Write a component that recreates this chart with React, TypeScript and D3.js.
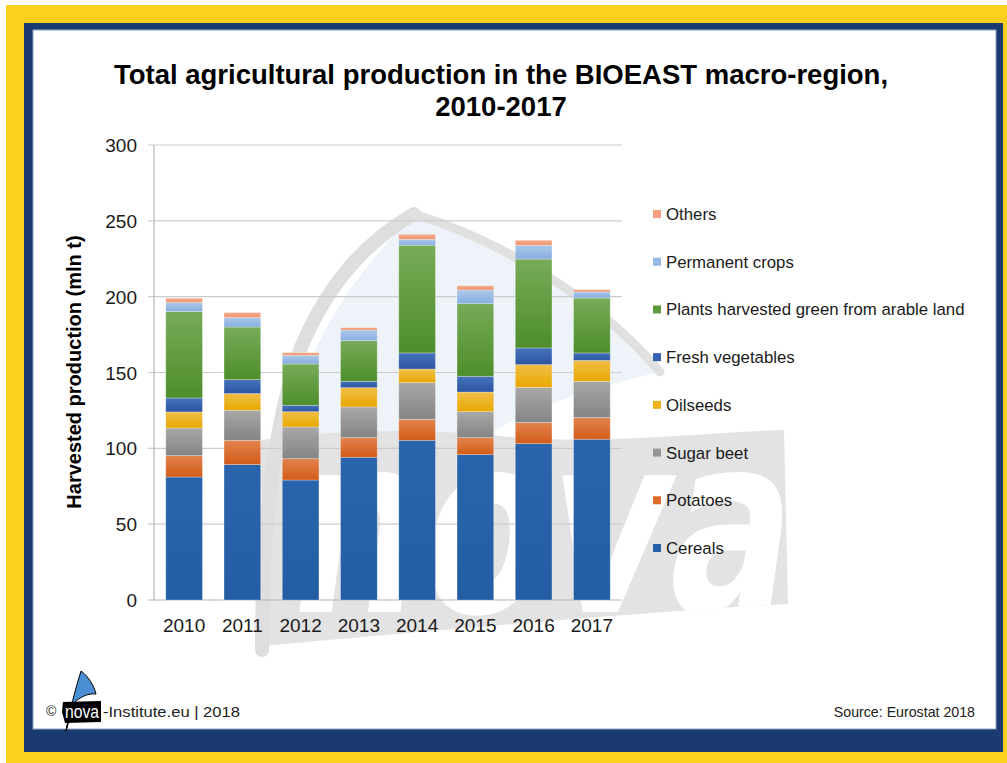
import React from "react";
import * as d3 from "d3";

const years = ["2010", "2011", "2012", "2013", "2014", "2015", "2016", "2017"];
const cereals = [81.1, 89.3, 79.1, 94.1, 105.3, 95.9, 103.1, 106.0];
const potatoes = [14.1, 16.0, 14.1, 13.0, 13.8, 11.2, 13.9, 14.3];
const sugarBeet = [18.2, 19.8, 20.9, 20.2, 24.2, 17.1, 23.2, 23.9];
const oilseeds = [10.6, 11.0, 10.1, 12.7, 9.0, 12.9, 15.0, 13.8];
const freshVegetables = [9.2, 9.2, 4.2, 4.2, 10.6, 10.4, 11.0, 4.9];
const plantsGreen = [57.1, 34.7, 27.2, 26.8, 71.0, 47.9, 58.6, 36.2];
const permanentCrops = [5.8, 6.2, 5.7, 7.0, 3.9, 9.0, 9.1, 4.0];
const others = [2.9, 3.3, 1.8, 1.6, 3.3, 2.8, 3.3, 1.5];
const yTicks = [0, 50, 100, 150, 200, 250, 300];

const seriesNames = [
  "Cereals",
  "Potatoes",
  "Sugar beet",
  "Oilseeds",
  "Fresh vegetables",
  "Plants harvested green from arable land",
  "Permanent crops",
  "Others",
];
const seriesValues = [cereals, potatoes, sugarBeet, oilseeds, freshVegetables, plantsGreen, permanentCrops, others];
const seriesTop = ["#2A64AC", "#E2834F", "#A8A8A8", "#F0BE48", "#4673BC", "#77AB58", "#ABC8EB", "#F4AA8A"];
const seriesBottom = ["#235DA3", "#D15C18", "#848484", "#E8A800", "#2C54A2", "#4E8E2B", "#86AEDF", "#EE9470"];
const seriesLegend = ["#2560A8", "#DA6A25", "#979797", "#EDB31C", "#3662B1", "#5E9B3B", "#97B9E5", "#F2A07F"];

const FONT = "'Liberation Sans', Arial, Helvetica, sans-serif";

export default function App() {
  const W = 1007;
  const H = 763;
  const x = d3.scaleBand<string>().domain(years).range([155, 621]).paddingInner(0.37).paddingOuter(0.185);
  const y = d3.scaleLinear().domain([0, 300]).range([600, 145]);

  const table = years.map((yr, i) => {
    const row: any = { year: yr };
    seriesNames.forEach((n, k) => (row[n] = seriesValues[k][i]));
    return row;
  });
  const stacked = d3.stack<any>().keys(seriesNames)(table);

  const legendY = d3.scalePoint<string>().domain(seriesNames.slice().reverse()).range([214, 548]);

  const bannerPath = "M261,440 C330,430 420,428 500,436 C600,446 700,432 784,430 L788,604 C640,612 420,632 262,646 Z";

  return (
    <svg width={W} height={H} style={{ position: "absolute", left: 0, top: 0, fontFamily: FONT }}>
      <defs>
        {seriesNames.map((n, k) => (
          <linearGradient key={n} id={`g${k}`} x1="0" y1="0" x2="0" y2="1">
            <stop offset="0%" stopColor={seriesTop[k]} />
            <stop offset="100%" stopColor={seriesBottom[k]} />
          </linearGradient>
        ))}
        <clipPath id="bannerClip">
          <path d={bannerPath} />
        </clipPath>
      </defs>

      {/* frame */}
      <rect x={0} y={0} width={W} height={H} fill="#ffffff" />
      <rect x={6} y={5} width={W - 6} height={H - 5} fill="#FBD11F" />
      <rect x={24} y={23} width={979} height={729} fill="#1A3A70" />
      <rect x={33} y={30} width={963} height={699} fill="#ffffff" stroke="#8EA3C4" strokeWidth={1} />

      {/* watermark */}
      <path
        d="M414,214 C500,240 600,300 660,372 C600,385 520,410 480,440 L300,470 C285,420 300,330 414,214 Z"
        fill="#EDF3F9"
      />
      <path d={bannerPath} fill="#E3E3E3" />
      <g clipPath="url(#bannerClip)">
        <text
          x={285}
          y={612}
          fontSize={250}
          fontWeight="bold"
          fill="#ffffff"
          textLength={500}
          lengthAdjust="spacingAndGlyphs"
          transform="skewX(-8) translate(85,0)"
          fontFamily="'DejaVu Sans', sans-serif"
        >
          nova
        </text>
      </g>
      <path
        d="M262,650 C262,520 275,420 300,350 C325,290 360,245 414,214"
        fill="none"
        stroke="#DEDEDE"
        strokeWidth={14}
        strokeLinecap="round"
      />
      <path
        d="M414,214 C500,240 600,300 660,372"
        fill="none"
        stroke="#E0E0E0"
        strokeWidth={9}
        strokeLinecap="round"
      />

      {/* title */}
      <text x={501} y={84} textAnchor="middle" fontSize={27.5} fontWeight="bold" fill="#000">
        Total agricultural production in the BIOEAST macro-region,
      </text>
      <text x={501} y={116} textAnchor="middle" fontSize={27.5} fontWeight="bold" fill="#000">
        2010-2017
      </text>

      {/* grid */}
      {yTicks.map((t) => (
        <g key={t}>
          <line x1={148} x2={622} y1={y(t)} y2={y(t)} stroke={t === 0 ? "#B5B5B5" : "#CCCCCC"} strokeWidth={1.2} />
          <text x={137} y={y(t) + 7} textAnchor="end" fontSize={19} fill="#1a1a1a">
            {t}
          </text>
        </g>
      ))}
      <line x1={154} x2={154} y1={y(300)} y2={y(0)} stroke="#B5B5B5" strokeWidth={1.2} />

      {/* bars */}
      {stacked.map((s, k) => (
        <g key={s.key}>
          {s.map((d, i) => (
            <rect
              key={i}
              x={x(years[i])}
              y={y(d[1])}
              width={x.bandwidth()}
              height={Math.max(0, y(d[0]) - y(d[1]))}
              fill={`url(#g${k})`}
              stroke="#ffffff"
              strokeOpacity={0.35}
              strokeWidth={0.8}
            />
          ))}
        </g>
      ))}

      {/* x labels */}
      {years.map((yr) => (
        <text key={yr} x={(x(yr) as number) + x.bandwidth() / 2} y={632} textAnchor="middle" fontSize={19} fill="#1a1a1a">
          {yr}
        </text>
      ))}

      {/* y label */}
      <text
        transform={`translate(81,372) rotate(-90)`}
        textAnchor="middle"
        fontSize={20}
        fontWeight="bold"
        fill="#000"
      >
        Harvested production (mln t)
      </text>

      {/* legend */}
      {seriesNames.map((n, k) => (
        <g key={n}>
          <rect x={653} y={(legendY(n) as number) - 4} width={8} height={8} fill={seriesLegend[k]} />
          <text x={666} y={(legendY(n) as number) + 6} fontSize={16.8} fill="#1a1a1a">
            {n}
          </text>
        </g>
      ))}

      {/* footer */}
      <text x={46} y={716} fontSize={14} fill="#222">
        ©
      </text>
      <path d="M66,731 C70,710 75,690 81,671 C89,677 94,686 96,694 C88,693 80,697 74,703 Z" fill="#4A8FD3" stroke="#000" strokeWidth={1} />
      <path d="M63,702 L101,701 L101,722 L65,723 L62,712 Z" fill="#000" />
      <line x1={66} y1={731} x2={70} y2={712} stroke="#000" strokeWidth={1.2} />
      <text x={82} y={718} textAnchor="middle" fontSize={18} fill="#fff" textLength={34} lengthAdjust="spacingAndGlyphs">
        nova
      </text>
      <text x={103} y={717} fontSize={15} fill="#222" textLength={137} lengthAdjust="spacingAndGlyphs">
        -Institute.eu | 2018
      </text>
      <text x={975} y={717} textAnchor="end" fontSize={14.2} fill="#222">
        Source: Eurostat 2018
      </text>
    </svg>
  );
}
